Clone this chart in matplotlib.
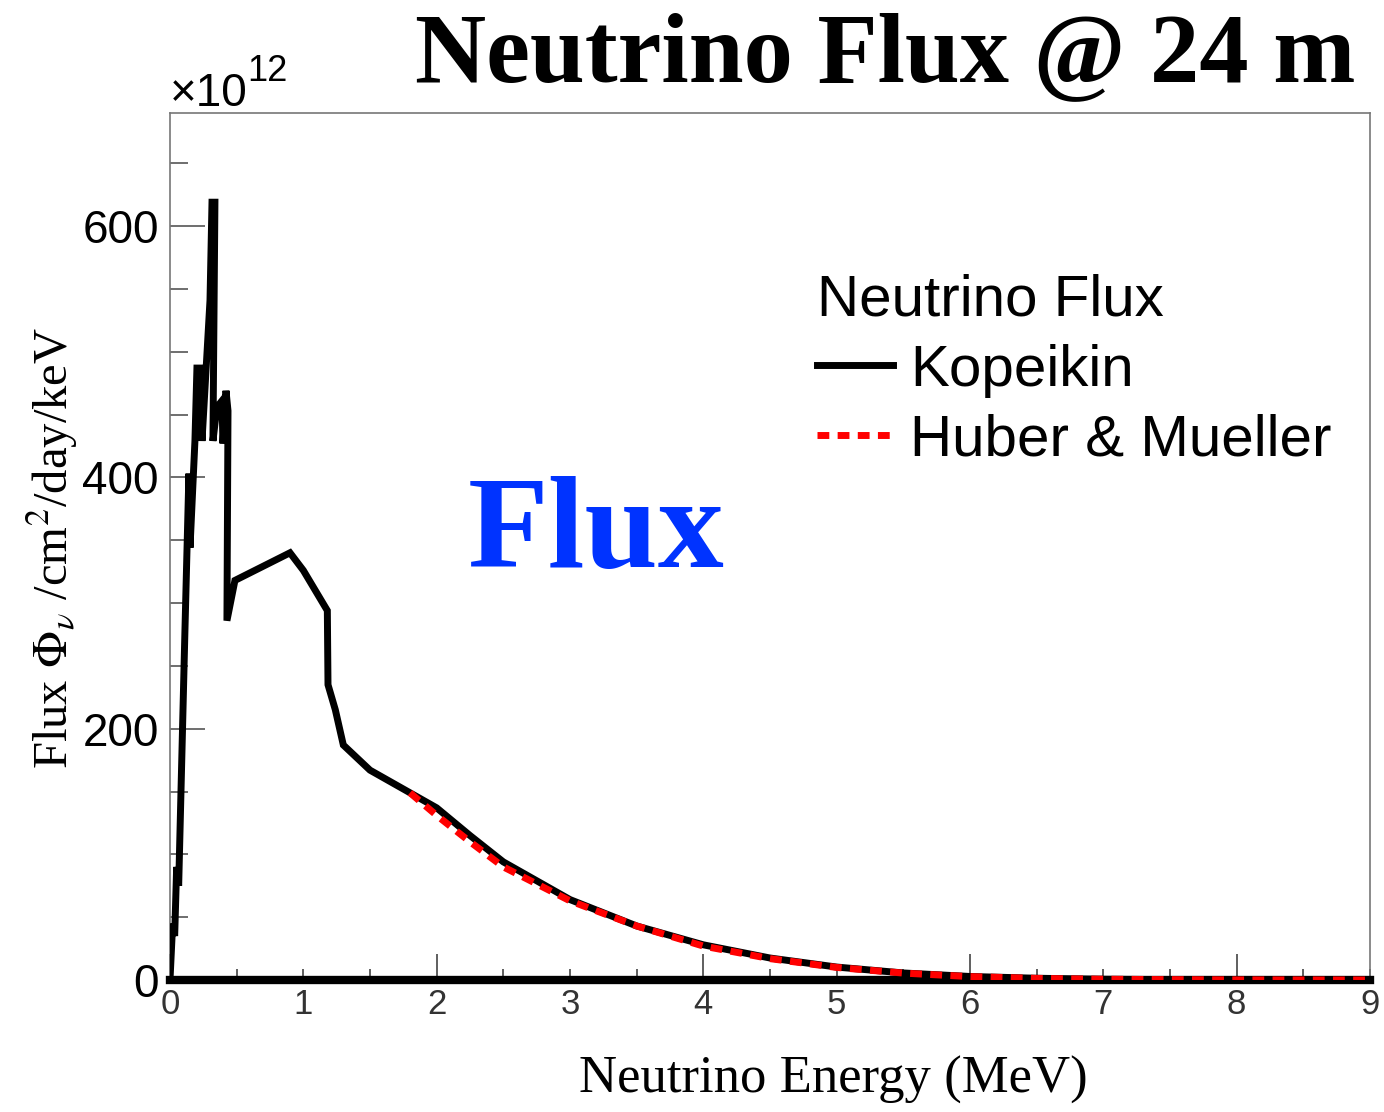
import matplotlib
matplotlib.use("Agg")
import matplotlib.pyplot as plt
from matplotlib.ticker import MultipleLocator

# Kopeikin spectrum (x in MeV, flux in 1e12 /cm2/day/keV)
kop_e = [0.0, 0.02, 0.035, 0.05, 0.065, 0.112, 0.142, 0.15, 0.187, 0.202, 0.225,
         0.24, 0.30, 0.315, 0.337, 0.322, 0.352, 0.39, 0.397, 0.42, 0.435,
         0.427, 0.487, 0.90, 1.0, 1.18, 1.185, 1.24, 1.30, 1.5, 1.8, 2.0,
         2.25, 2.5, 3.0, 3.5, 4.0, 4.5, 5.0, 5.5, 6.0, 6.5, 7.0, 7.5, 8.0,
         8.5, 9.0]
kop_flux = [0, 45, 35, 90, 75, 278, 403, 344, 429, 487, 487,
            429, 541, 619, 619, 429, 456, 461, 427, 469, 453,
            286, 318, 340, 326, 294, 235, 215, 187, 167, 149, 137,
            115, 94, 64, 43, 28, 17.5, 10.3, 5.6, 2.8, 1.4, 0.6, 0.3, 0.1,
            0.05, 0.02]

# Huber & Mueller spectrum
hm_e = [1.8, 2.0, 2.25, 2.5, 3.0, 3.5, 4.0, 4.5, 5.0, 5.5, 6.0, 6.5, 7.0,
        7.5, 8.0, 8.5, 9.0]
hm_flux = [149, 131, 110, 90, 63, 43, 27, 17, 10, 5.5, 2.7, 1.3, 0.6,
           0.3, 0.1, 0.05, 0.02]

x_ticks = list(range(10))
y_ticks = [0, 200, 400, 600]

plt.rcParams['mathtext.fontset'] = 'stix'
sans = ['Liberation Sans', 'DejaVu Sans']
serif = ['Liberation Serif', 'DejaVu Serif']

fig = plt.figure(figsize=(13.84, 11.12), dpi=100)
ax = fig.add_axes([170/1384, 1 - 980/1112, 1200/1384, 867/1112])

ax.plot(kop_e, kop_flux, color='black', lw=5, solid_joinstyle='miter',
        label='Kopeikin', zorder=3)
ax.plot(hm_e, hm_flux, color='red', lw=5, ls=(0, (1.7, 1.2)),
        label='Huber & Mueller', zorder=4)

ax.set_xlim(0, 9)
ax.set_ylim(0, 690)

# Ticks
ax.set_xticks(x_ticks)
ax.xaxis.set_minor_locator(MultipleLocator(0.5))
ax.set_yticks(y_ticks)
ax.yaxis.set_minor_locator(MultipleLocator(50))
ax.tick_params(axis='x', which='both', direction='in', length=8, width=1.2,
               color='#444444', labelsize=25, labelcolor='#333333', pad=6)
ax.tick_params(axis='y', which='major', direction='in', length=25, width=1.2,
               color='#555555', labelsize=33, pad=8)
ax.tick_params(axis='y', which='minor', direction='in', length=13, width=1.2,
               color='#555555')
for lab in ax.get_xticklabels() + ax.get_yticklabels():
    lab.set_family(sans)
for val, tick in zip(x_ticks, ax.xaxis.get_major_ticks()):
    if val % 2 == 0:
        tick.tick1line.set_markersize(19)

for s in ['left', 'top', 'right']:
    ax.spines[s].set_color('#777777')
    ax.spines[s].set_linewidth(1.2)
ax.spines['bottom'].set_color('black')
ax.spines['bottom'].set_linewidth(6)

# ROOT style exponent
base = ax.text(0.0, 0.997, '×10', transform=ax.transAxes,
               fontsize=33, family=sans, ha='left', va='bottom')
ax.annotate('12', xy=(1, 0.6), xycoords=base, fontsize=26, family=sans,
            ha='left', va='bottom')

# Legend
lgd = ax.legend(title='Neutrino Flux', loc='upper left',
                bbox_to_anchor=(0.515, 0.848), frameon=False,
                fontsize=42, title_fontsize=42, handlelength=1.3,
                handletextpad=0.3, labelspacing=0.27, borderpad=0,
                alignment='left', prop={'family': sans, 'size': 42})
lgd.get_title().set_family(sans)

# Texts
fig.text(415/1384, 1 - 57/1112, 'Neutrino Flux @ 24 m', fontsize=71,
         fontweight='bold', family=serif, ha='left', va='center')
fig.text(468/1384, 1 - 567/1112, 'Flux', fontsize=95, fontweight='bold',
         family=serif, color='#0033ff', ha='left', va='baseline')
fig.text(833/1384, 1 - 1080/1112, 'Neutrino Energy (MeV)', fontsize=38,
         family=serif, ha='center', va='center')
fig.text(52/1384, 1 - 548/1112, r'Flux $\Phi_{\nu}$ /cm$^{2}$/day/keV',
         fontsize=35, family=serif, rotation=90, ha='center', va='center')

fig.savefig('out.png', dpi=100)
